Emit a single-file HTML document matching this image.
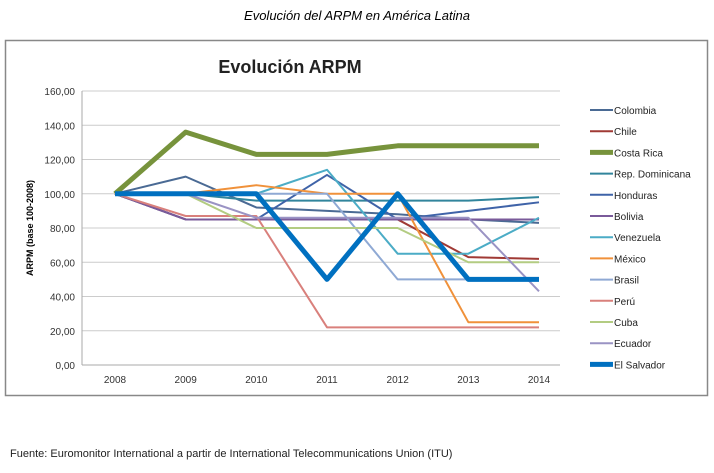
<!DOCTYPE html>
<html><head><meta charset="utf-8"><style>
body{margin:0;width:714px;height:468px;background:#fff;font-family:"Liberation Sans",sans-serif;overflow:hidden}
</style></head><body>
<svg width="714" height="468">
<text x="357" y="20" text-anchor="middle" font-size="13" font-style="italic">Evolución del ARPM   en América Latina</text>
<rect x="5.5" y="40.5" width="702" height="355" fill="#fff" stroke="#888" stroke-width="1.5"/>
<text x="290" y="73" text-anchor="middle" font-size="18" font-weight="bold" fill="#222">Evolución ARPM</text>
<text transform="translate(33,228) rotate(-90)" text-anchor="middle" font-size="9" font-weight="bold">ARPM (base 100-2008)</text>
<g id="grid"></g><g id="series"></g><g id="legend"></g>
<text x="10" y="457" font-size="11" fill="#222">Fuente: Euromonitor International a partir de International Telecommunications Union (ITU)</text>
</svg>
<script>
const years=[2008,2009,2010,2011,2012,2013,2014];
const yTicks=[0,20,40,60,80,100,120,140,160];
const names=["Colombia","Chile","Costa Rica","Rep. Dominicana","Honduras","Bolivia","Venezuela","México","Brasil","Perú","Cuba","Ecuador","El Salvador"];
const colombia=[100,110,92,90,88,85,83];
const chile=[100,85,85,85,85,63,62];
const costaRica=[100,136,123,123,128,128,128];
const repDominicana=[100,100,96,96,96,96,98];
const honduras=[100,85,85,111,85,90,95];
const bolivia=[100,85,85,85,85,85,85];
const venezuela=[100,100,100,114,65,65,86];
const mexico=[100,100,105,100,100,25,25];
const brasil=[100,100,100,100,50,50,50];
const peru=[100,87,87,22,22,22,22];
const cuba=[100,100,80,80,80,60,60];
const ecuador=[100,100,86,86,86,86,43];
const elSalvador=[100,100,100,50,100,50,50];
const seriesVals=[colombia,chile,costaRica,repDominicana,honduras,bolivia,venezuela,mexico,brasil,peru,cuba,ecuador,elSalvador];
const colors=["#4a6a94","#a03a35","#77933c","#31859c","#3f63a8","#7a5a9a","#4bacc6","#f0913a","#8fa9d4","#d9807c","#b3cc82","#9a93c4","#0070c0"];
const widths=[2,2,5,2,2,2,2,2,2,2,2,2,5];
const NS="http://www.w3.org/2000/svg";
const X0=82,X1=560,Y0=365,Y1=91;
function x(i){return 115+i*(539-115)/(years.length-1);}
function y(v){return Y0-(v-0)/(160-0)*(Y0-Y1);}
function mk(t,a,p){const e=document.createElementNS(NS,t);for(const k in a)e.setAttribute(k,a[k]);p.appendChild(e);return e;}
const g=document.getElementById('grid');
yTicks.forEach(t=>{
 const l=mk('line',{x1:X0,x2:X1,y1:y(t),y2:y(t),stroke:t===0?'#aaa':'#ccc','stroke-width':1},g);
 
 
 const tx=mk('text',{x:75,y:y(t)+4,'text-anchor':'end','font-size':10,fill:'#333'},g);
 tx.textContent=t.toFixed(2).replace('.',',');
 
 
});
mk('line',{x1:X0,x2:X0,y1:Y1,y2:Y0,stroke:'#aaa'},g);
years.forEach((yr,i)=>{
 const tx=mk('text',{x:x(i),y:383,'text-anchor':'middle','font-size':10,fill:'#333'},g);
 tx.textContent=yr;
 
 
});
const s=document.getElementById('series'),lg=document.getElementById('legend');
const order=[0,1,3,4,5,6,7,8,9,10,11,2,12];
order.forEach(k=>{
 const p=mk('polyline',{points:seriesVals[k].map((v,i)=>x(i)+','+y(v)).join(' '),fill:'none',stroke:colors[k],'stroke-width':widths[k],'stroke-linejoin':'round'},s);
 
 
});
names.forEach((n,k)=>{
 const yy=110+k*21.2;
 const e=mk('g',{},lg);
 
 
 mk('line',{x1:590,x2:613,y1:yy,y2:yy,stroke:colors[k],'stroke-width':widths[k]},e);
 const t=mk('text',{x:614,y:yy+4,'font-size':10,fill:'#222'},e);
 t.textContent=n;
});
</script>
</body></html>
